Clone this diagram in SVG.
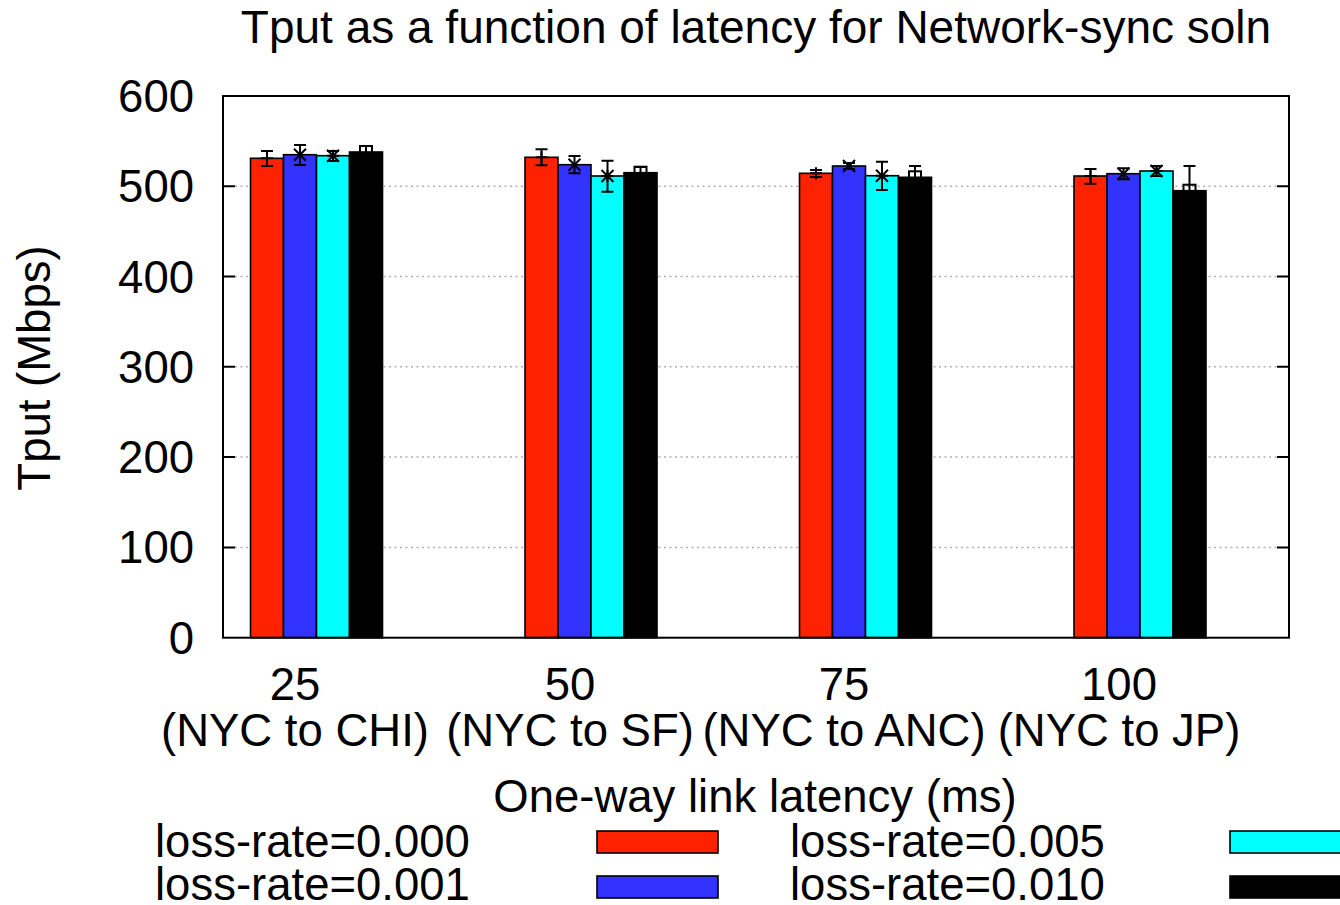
<svg xmlns="http://www.w3.org/2000/svg" width="1340" height="905" viewBox="0 0 1340 905">
  <style>
    text { font-family: "Liberation Sans", Arial, Helvetica, sans-serif; font-size: 45.5px; fill: #000; }
    .ytick { text-anchor: end; }
    .mid { text-anchor: middle; }
    .grid { stroke: #b0b0b0; stroke-width: 1.5; stroke-dasharray: 2 3.5; fill: none; }
    .tick { stroke: #000; stroke-width: 2; }
    .frame { fill: none; stroke: #000; stroke-width: 2; }
    .bar { stroke: #000; stroke-width: 1.6; }
    .r { fill: #ff2200; }
    .b { fill: #3333ff; }
    .c { fill: #00ffff; }
    .k { fill: #000; }
    .err { stroke: #000; stroke-width: 2; fill: none; }
  </style>
  <defs>
    <path id="pt-plus" d="M-6 0H6M0 -6V6" class="err"/>
    <path id="pt-cross" d="M-6 -6L6 6M-6 6L6 -6" class="err"/>
    <path id="pt-star" d="M-6 0H6M0 -6V6M-6 -6L6 6M-6 6L6 -6" class="err"/>
    <rect id="pt-box" x="-6" y="-6" width="12" height="12" class="err"/>
  </defs>

  <rect width="1340" height="905" fill="#fff"/>

  <text id="title" class="mid" x="756" y="43" style="font-size:46px">Tput as a function of latency for Network-sync soln</text>

  <!-- horizontal grid lines (100..500) -->
  <g id="grid">
    <line class="grid" x1="235" y1="547.4" x2="1277" y2="547.4"/>
    <line class="grid" x1="235" y1="457.1" x2="1277" y2="457.1"/>
    <line class="grid" x1="235" y1="366.8" x2="1277" y2="366.8"/>
    <line class="grid" x1="235" y1="276.6" x2="1277" y2="276.6"/>
    <line class="grid" x1="235" y1="186.3" x2="1277" y2="186.3"/>
  </g>

  <!-- bars: value scale 0 at y=637.7, 90.3 px per 100 Mbps -->
  <g id="bars">
    <g id="group-25">
      <rect class="bar r" x="250.5" y="158.3" width="33" height="479.4"/>
      <rect class="bar b" x="283.5" y="154.7" width="33" height="483"/>
      <rect class="bar c" x="316.5" y="155.7" width="33" height="482"/>
      <rect class="bar k" x="349.5" y="152" width="33" height="485.7"/>
    </g>
    <g id="group-50">
      <rect class="bar r" x="525" y="157.3" width="33" height="480.4"/>
      <rect class="bar b" x="558" y="164.7" width="33" height="473"/>
      <rect class="bar c" x="591" y="176" width="33" height="461.7"/>
      <rect class="bar k" x="624" y="172.7" width="33" height="465"/>
    </g>
    <g id="group-75">
      <rect class="bar r" x="799.5" y="173.3" width="33" height="464.4"/>
      <rect class="bar b" x="832.5" y="166" width="33" height="471.7"/>
      <rect class="bar c" x="865.5" y="175.7" width="33" height="462"/>
      <rect class="bar k" x="898.5" y="177.3" width="33" height="460.4"/>
    </g>
    <g id="group-100">
      <rect class="bar r" x="1074" y="176" width="33" height="461.7"/>
      <rect class="bar b" x="1107" y="173.7" width="33" height="464"/>
      <rect class="bar c" x="1140" y="171" width="33" height="466.7"/>
      <rect class="bar k" x="1173" y="190.7" width="33" height="447"/>
    </g>
  </g>

  <!-- error bars with point markers at the bar tops -->
  <g id="errorbars">
    <path class="err" d="M267 151V166M261 151H273M261 166H273"/>
    <use href="#pt-plus" x="267" y="158.3"/>
    <path class="err" d="M300 145V165M294 145H306M294 165H306"/>
    <use href="#pt-cross" x="300" y="154.7"/>
    <path class="err" d="M333 151V161M327 151H339M327 161H339"/>
    <use href="#pt-star" x="333" y="155.7"/>
    <path class="err" d="M366 146V158M360 146H372M360 158H372"/>
    <use href="#pt-box" x="366" y="152"/>

    <path class="err" d="M541.5 149.3V165.3M535.5 149.3H547.5M535.5 165.3H547.5"/>
    <use href="#pt-plus" x="541.5" y="157.3"/>
    <path class="err" d="M574.5 156V173.3M568.5 156H580.5M568.5 173.3H580.5"/>
    <use href="#pt-cross" x="574.5" y="164.7"/>
    <path class="err" d="M607.5 160.7V191.7M601.5 160.7H613.5M601.5 191.7H613.5"/>
    <use href="#pt-star" x="607.5" y="176"/>
    <path class="err" d="M640.5 167V178M634.5 167H646.5M634.5 178H646.5"/>
    <use href="#pt-box" x="640.5" y="172.7"/>

    <path class="err" d="M816 170V177M810 170H822M810 177H822"/>
    <use href="#pt-plus" x="816" y="173.3"/>
    <path class="err" d="M849 163V169M843 163H855M843 169H855"/>
    <use href="#pt-cross" x="849" y="166"/>
    <path class="err" d="M882 161.7V190M876 161.7H888M876 190H888"/>
    <use href="#pt-star" x="882" y="175.7"/>
    <path class="err" d="M915 166V188M909 166H921M909 188H921"/>
    <use href="#pt-box" x="915" y="177.3"/>

    <path class="err" d="M1090.5 169V183.7M1084.5 169H1096.5M1084.5 183.7H1096.5"/>
    <use href="#pt-plus" x="1090.5" y="176"/>
    <path class="err" d="M1123.5 168.3V179.3M1117.5 168.3H1129.5M1117.5 179.3H1129.5"/>
    <use href="#pt-cross" x="1123.5" y="173.7"/>
    <path class="err" d="M1156.5 166V176M1150.5 166H1162.5M1150.5 176H1162.5"/>
    <use href="#pt-star" x="1156.5" y="171"/>
    <path class="err" d="M1189.5 166V215M1183.5 166H1195.5M1183.5 215H1195.5"/>
    <use href="#pt-box" x="1189.5" y="190.7"/>
  </g>

  <!-- axes frame and tick marks -->
  <g id="axes">
    <rect class="frame" x="223" y="96" width="1066" height="541.7"/>
    <path class="tick" d="M223 547.4H235M223 457.1H235M223 366.8H235M223 276.6H235M223 186.3H235
                          M1277 547.4H1289M1277 457.1H1289M1277 366.8H1289M1277 276.6H1289M1277 186.3H1289"/>
  </g>

  <g id="y-labels">
    <text class="ytick" x="194" y="112">600</text>
    <text class="ytick" x="194" y="202.3">500</text>
    <text class="ytick" x="194" y="292.6">400</text>
    <text class="ytick" x="194" y="382.8">300</text>
    <text class="ytick" x="194" y="473.1">200</text>
    <text class="ytick" x="194" y="563.4">100</text>
    <text class="ytick" x="194" y="653.7">0</text>
  </g>
  <text id="y-title" class="mid" transform="translate(50,368) rotate(-90)">Tput (Mbps)</text>

  <g id="x-labels">
    <text class="mid" x="295" y="700">25</text>
    <text class="mid" x="295" y="746">(NYC to CHI)</text>
    <text class="mid" x="570" y="700">50</text>
    <text class="mid" x="570" y="746">(NYC to SF)</text>
    <text class="mid" x="844" y="700">75</text>
    <text class="mid" x="844" y="746">(NYC to ANC)</text>
    <text class="mid" x="1119" y="700">100</text>
    <text class="mid" x="1119" y="746">(NYC to JP)</text>
  </g>
  <text id="x-title" class="mid" x="755" y="812">One-way link latency (ms)</text>

  <g id="legend">
    <text x="155" y="857">loss-rate=0.000</text>
    <rect class="bar r" x="597" y="831" width="121" height="22"/>
    <text x="155" y="900">loss-rate=0.001</text>
    <rect class="bar b" x="597" y="876" width="121" height="22"/>
    <text x="790" y="857">loss-rate=0.005</text>
    <rect class="bar c" x="1230" y="831" width="121" height="22"/>
    <text x="790" y="900">loss-rate=0.010</text>
    <rect class="bar k" x="1230" y="876" width="121" height="22"/>
  </g>
</svg>
